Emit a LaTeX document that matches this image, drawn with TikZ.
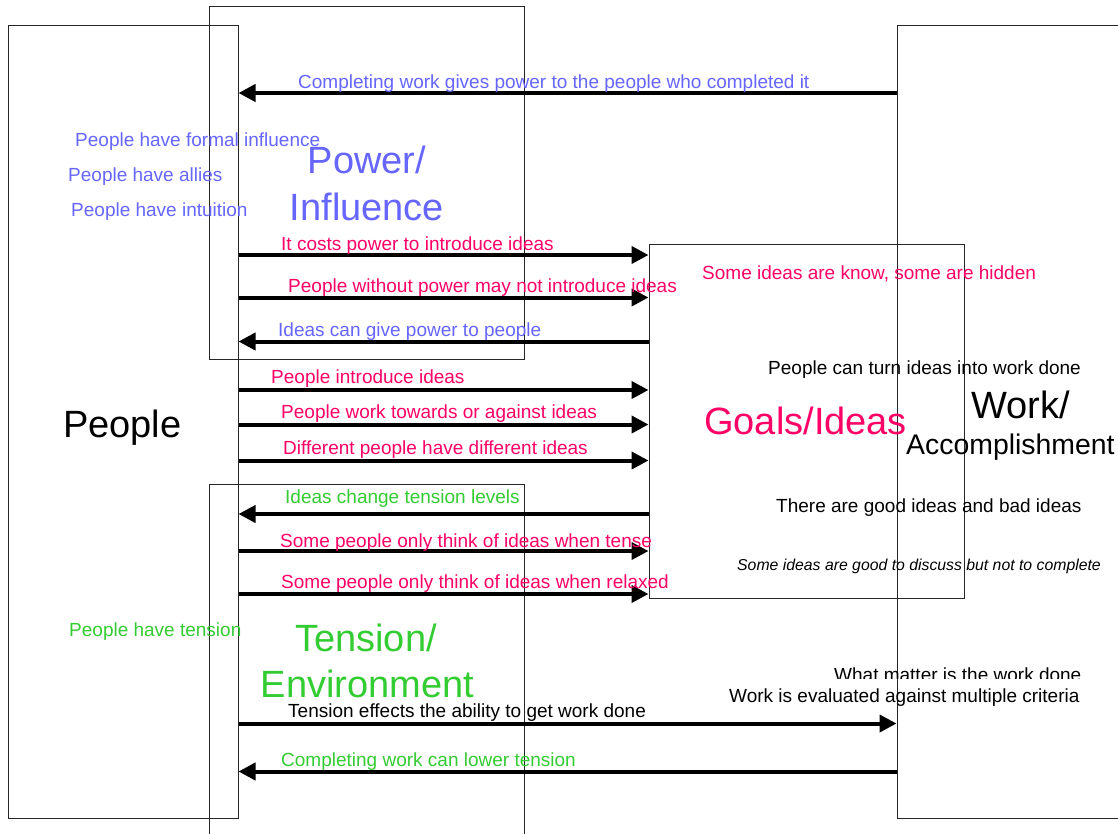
\documentclass[tikz,border=0pt]{standalone}
\usepackage{fontspec}
\setmainfont{Liberation Sans}
\usetikzlibrary{arrows.meta}
\definecolor{pblue}{HTML}{6666FF}
\definecolor{ired}{HTML}{FF0066}
\definecolor{tgreen}{HTML}{33CC33}
\begin{document}
\begin{tikzpicture}[x=1pt,y=-1pt,
 box/.style={draw=black!85, line width=1pt, rectangle, inner sep=0pt},
 arr/.style={line width=4pt, -{Triangle[length=17pt,width=17pt]}},
 lbl/.style={anchor=base west, inner sep=0pt, font=\fontsize{19}{22}\selectfont},
 big/.style={anchor=base, inner sep=0pt, font=\fontsize{38}{44}\selectfont},
]
\clip (0,0) rectangle (1118,833);
\fill[white] (0,0) rectangle (1118,833);
% boxes
\node[box, minimum width=230pt, minimum height=793pt] (people) at (123,421.5) {};
\node[box, minimum width=315pt, minimum height=353pt] (power) at (366.5,182.5) {};
\node[box, minimum width=315pt, minimum height=416pt] (tension) at (366.5,692) {};
\node[box, minimum width=315pt, minimum height=354pt] (goals) at (806.5,421) {};
\node[box, minimum width=243pt, minimum height=793pt] (work) at (1018.5,421.5) {};
% arrows
\draw[arr] (work.west |- 0,93) -- (people.east |- 0,93);
\draw[arr] (people.east |- 0,255) -- (goals.west |- 0,255);
\draw[arr] (people.east |- 0,297.5) -- (goals.west |- 0,297.5);
\draw[arr] (goals.west |- 0,341.5) -- (people.east |- 0,341.5);
\draw[arr] (people.east |- 0,390) -- (goals.west |- 0,390);
\draw[arr] (people.east |- 0,424.5) -- (goals.west |- 0,424.5);
\draw[arr] (people.east |- 0,460.5) -- (goals.west |- 0,460.5);
\draw[arr] (goals.west |- 0,514) -- (people.east |- 0,514);
\draw[arr] (people.east |- 0,551) -- (goals.west |- 0,551);
\draw[arr] (people.east |- 0,594) -- (goals.west |- 0,594);
\draw[arr] (people.east |- 0,723.5) -- (work.west |- 0,723.5);
\draw[arr] (work.west |- 0,771.5) -- (people.east |- 0,771.5);
% arrow labels
\node[lbl, text=pblue] (l1) at (298,88) {Completing work gives power to the people who completed it};
\node[lbl, text=ired] (l2) at (281,250.5) {It costs power to introduce ideas};
\node[lbl, text=ired] (l3) at (288,292.5) {People without power may not introduce ideas};
\node[lbl, text=pblue] (l4) at (278,336.5) {Ideas can give power to people};
\node[lbl, text=ired] (l5) at (271,383) {People introduce ideas};
\node[lbl, text=ired] (l6) at (281,418) {People work towards or against ideas};
\node[lbl, text=ired] (l7) at (283,454) {Different people have different ideas};
\node[lbl, text=tgreen] (l8) at (285,503) {Ideas change tension levels};
\node[lbl, text=ired] (l9) at (280,547) {Some people only think of ideas when tense};
\node[lbl, text=ired] (l10) at (281,588.5) {Some people only think of ideas when relaxed};
\node[lbl, text=black] (l11) at (288,717.5) {Tension effects the ability to get work done};
\node[lbl, text=tgreen] (l12) at (281,766) {Completing work can lower tension};
% free texts
\node[lbl, text=pblue] (t1) at (75,146) {People have formal influence};
\node[lbl, text=pblue] (t2) at (68,181) {People have allies};
\node[lbl, text=pblue] (t3) at (71,216) {People have intuition};
\node[big, text=pblue] (pw1) at (367,173.5) {Power/};
\node[big, text=pblue] (pw2) at (367,220) {Influence};
\node[lbl, text=ired] (t4) at (702,279) {Some ideas are know, some are hidden};
\node[lbl, text=black] (t5) at (768,374.5) {People can turn ideas into work done};
\node[big, anchor=base west, text=ired] (gi) at (704,434.5) {Goals/Ideas};
\node[big, anchor=base west, text=black] (wk1) at (971,418.5) {Work/};
\node[anchor=base west, inner sep=0pt, font=\fontsize{28.4}{33}\selectfont] (wk2) at (906,454) {Accomplishment};
\node[big, anchor=base west, text=black] (pp) at (63,437.5) {People};
\node[lbl, text=black] (t6) at (776,512) {There are good ideas and bad ideas};
\node[anchor=base west, inner sep=0pt, font=\fontsize{15.8}{19}\selectfont\itshape] (t7) at (737,570) {Some ideas are good to discuss but not to complete};
\begin{scope}
\clip (0,0) rectangle (1118,678.3);
\node[lbl, text=black] (t8) at (834,681) {What matter is the work done};
\end{scope}
\node[lbl, text=black] (t9) at (729,702.5) {Work is evaluated against multiple criteria};
\node[lbl, text=tgreen] (t10) at (69,636) {People have tension};
\node[big, text=tgreen] (te1) at (366,651) {Tension/};
\node[big, text=tgreen] (te2) at (367.5,697) {Environment};
\end{tikzpicture}
\end{document}
